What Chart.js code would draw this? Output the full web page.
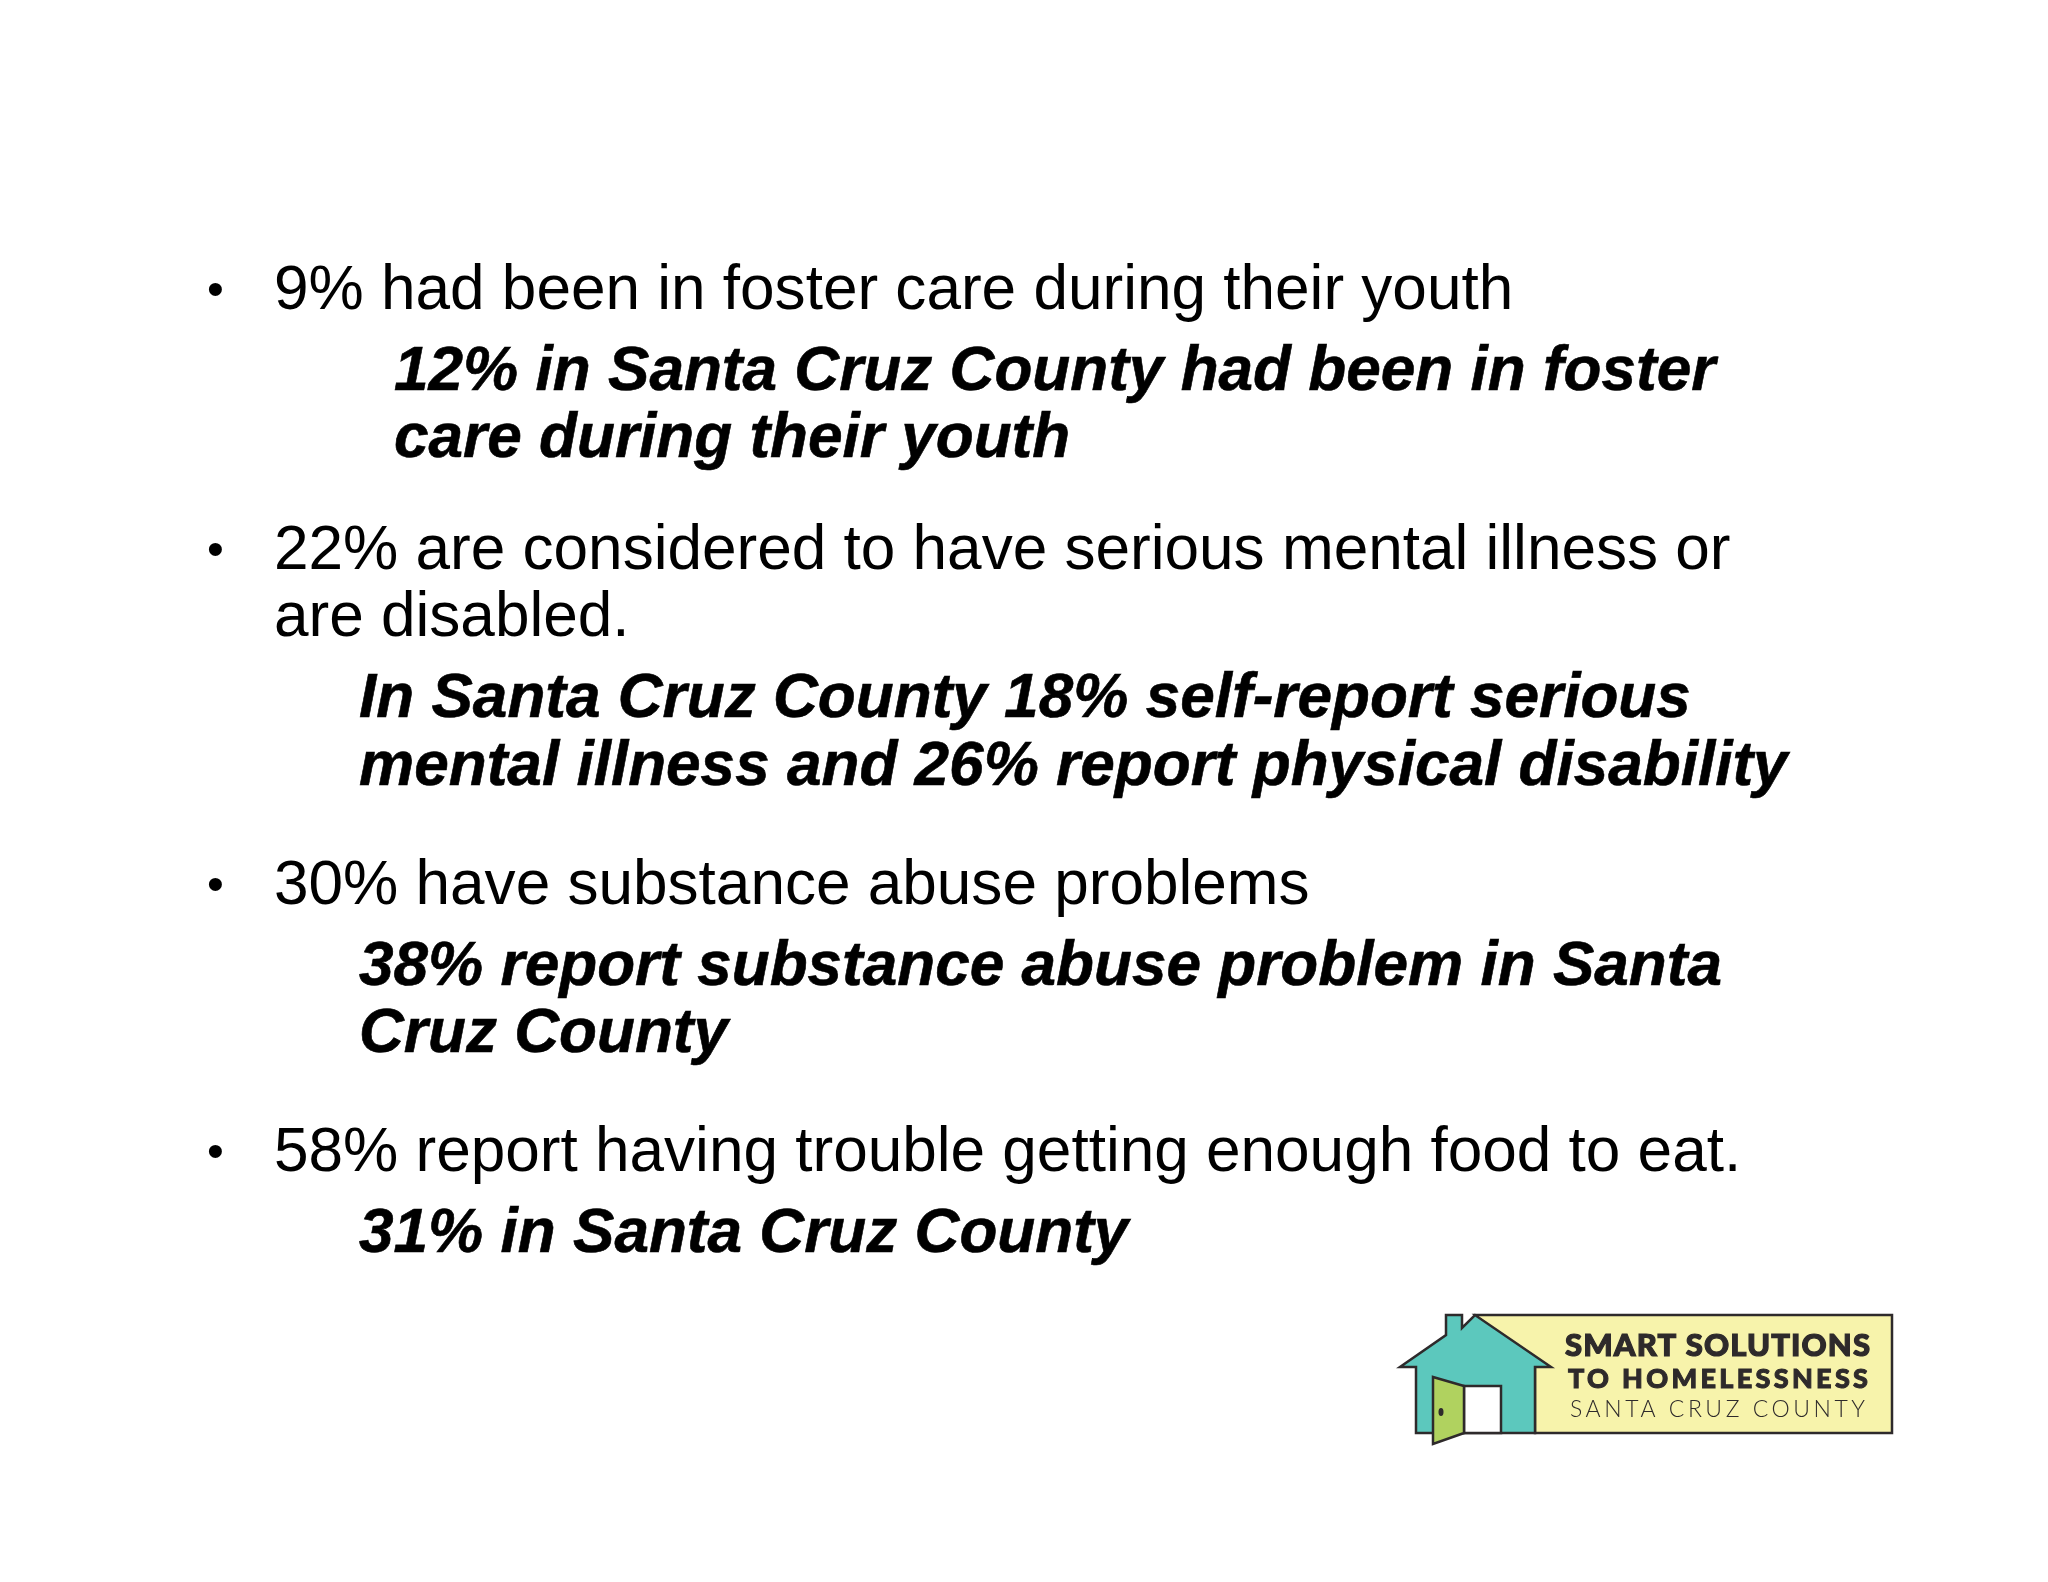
<!DOCTYPE html>
<html>
<head>
<meta charset="utf-8">
<style>
  html, body { margin: 0; padding: 0; background: #fff; }
  canvas { display: block; }
</style>
<script src="https://cdn.jsdelivr.net/npm/chart.js@4"></script>
</head>
<body>
<canvas id="slide" width="2048" height="1582"></canvas>
<script>
// Slide text
const nationalLines = [
  "9% had been in foster care during their youth",
  "22% are considered to have serious mental illness or",
  "are disabled.",
  "30% have substance abuse problems",
  "58% report having trouble getting enough food to eat."
];
const countyLines = [
  "12% in Santa Cruz County had been in foster",
  "care during their youth",
  "In Santa Cruz County 18% self-report serious",
  "mental illness and 26% report physical disability",
  "38% report substance abuse problem in Santa",
  "Cruz County",
  "31% in Santa Cruz County"
];
const logoLines = ["SMART SOLUTIONS", "TO HOMELESSNESS", "SANTA CRUZ COUNTY"];

// Layout, in slide pixels
const nationalBaselines = [309, 569, 636, 904, 1171];
const nationalLeft = 274;
const bulletBaselines = [305, 565, 900, 1167];
const bulletLeft = 207;
const countyBaselines = [390, 457, 717, 785, 985, 1052, 1252];
const countyLefts = [394, 394, 359, 359, 359, 359, 359];
const logoBaselines = [1356, 1388, 1417];
const logoLefts = [1565, 1568, 1570];
const logoWidths = [305, 300, 295];
const logoFonts = ["900 31px Lato", "900 27px Lato", "300 23px Lato"];
const logoStrokes = [1.2, 1, 0];

const slidePlugin = {
  id: "slideText",
  afterDraw(chart) {
    const ctx = chart.ctx;
    const px = (v) => chart.scales.x.getPixelForValue(v);
    const py = (v) => chart.scales.y.getPixelForValue(v);

    ctx.save();
    ctx.textBaseline = "alphabetic";
    ctx.fillStyle = "#000000";

    ctx.font = '62.1px "Liberation Sans"';
    nationalLines.forEach((line, i) => ctx.fillText(line, px(nationalLeft), py(nationalBaselines[i])));

    ctx.font = '48px "Liberation Sans"';
    bulletBaselines.forEach((y) => ctx.fillText("•", px(bulletLeft), py(y)));

    // County lines are a touch heavier than the plain bold
    ctx.font = 'italic bold 62.1px "Liberation Sans"';
    ctx.strokeStyle = "#000000";
    ctx.lineWidth = 0.6;
    countyLines.forEach((line, i) => {
      ctx.fillText(line, px(countyLefts[i]), py(countyBaselines[i]));
      ctx.strokeText(line, px(countyLefts[i]), py(countyBaselines[i]));
    });

    ctx.fillStyle = "#2e2a2b";
    drawLogo(ctx, px, py);
    ctx.restore();
  }
};

function tracePath(ctx, px, py, pts) {
  ctx.beginPath();
  pts.forEach((p, i) => (i ? ctx.lineTo(px(p[0]), py(p[1])) : ctx.moveTo(px(p[0]), py(p[1]))));
  ctx.closePath();
}

function drawLogo(ctx, px, py) {
  ctx.lineJoin = "miter";
  ctx.lineWidth = 2.5;
  ctx.strokeStyle = "#2e2a2b";

  // Yellow panel
  tracePath(ctx, px, py, [[1475, 1315], [1892, 1315], [1892, 1433], [1535, 1433], [1535, 1367]]);
  ctx.fillStyle = "#f7f3ab";
  ctx.fill();
  ctx.stroke();

  // House
  tracePath(ctx, px, py, [
    [1446, 1315], [1462, 1315], [1462, 1328], [1475, 1315], [1551, 1367], [1535, 1367],
    [1535, 1433], [1416, 1433], [1416, 1367], [1400, 1367], [1446, 1335]
  ]);
  ctx.fillStyle = "#5cc8bd";
  ctx.fill();
  ctx.stroke();

  // Doorway
  tracePath(ctx, px, py, [[1464, 1386], [1501, 1386], [1501, 1433], [1464, 1433]]);
  ctx.fillStyle = "#ffffff";
  ctx.fill();
  ctx.stroke();

  // Open door
  tracePath(ctx, px, py, [[1433, 1377], [1464, 1386], [1464, 1433], [1433, 1444]]);
  ctx.fillStyle = "#b0d25f";
  ctx.fill();
  ctx.stroke();

  // Door knob
  ctx.beginPath();
  ctx.ellipse(px(1441), py(1412), 2.5, 4, 0, 0, Math.PI * 2);
  ctx.fillStyle = "#2e2a2b";
  ctx.fill();

  // Logo wording, tracked out to the width of the original
  logoLines.forEach((line, i) => {
    ctx.font = logoFonts[i];
    ctx.letterSpacing = "0px";
    const extra = (logoWidths[i] - ctx.measureText(line).width) / (line.length - 1);
    ctx.letterSpacing = extra + "px";
    ctx.fillText(line, px(logoLefts[i]), py(logoBaselines[i]));
    if (logoStrokes[i]) {
      ctx.lineWidth = logoStrokes[i];
      ctx.strokeText(line, px(logoLefts[i]), py(logoBaselines[i]));
    }
  });
  ctx.letterSpacing = "0px";
}

new Chart(document.getElementById("slide"), {
  type: "scatter",
  data: { datasets: [] },
  options: {
    responsive: false,
    animation: false,
    devicePixelRatio: 1,
    layout: { padding: 0 },
    plugins: { legend: { display: false }, tooltip: { enabled: false } },
    scales: {
      x: { type: "linear", min: 0, max: 2048, display: false },
      y: { type: "linear", min: 0, max: 1582, reverse: true, display: false }
    }
  },
  plugins: [slidePlugin]
});
</script>
</body>
</html>
